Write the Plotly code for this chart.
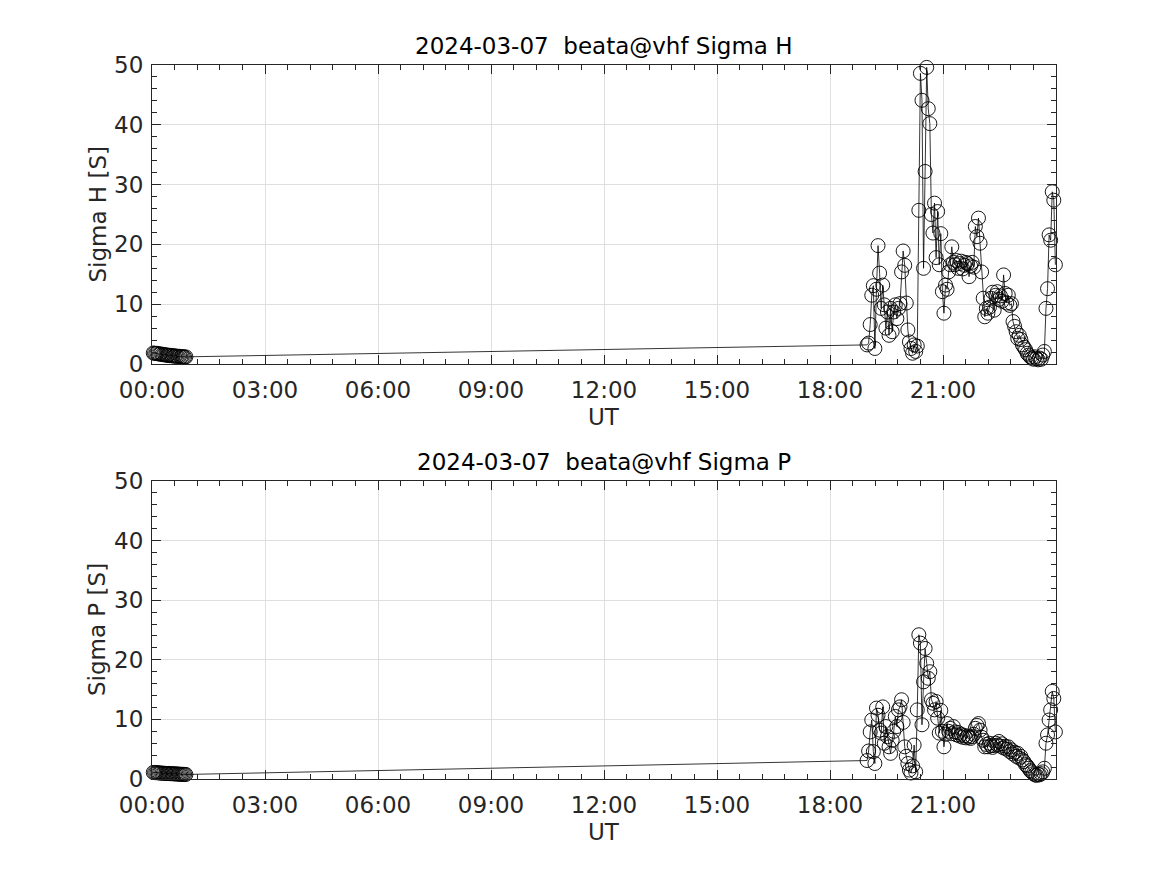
import pandas as pd
import plotly.graph_objects as go

DATE = "2024-03-07"
TITLE_H = "2024-03-07  beata@vhf Sigma H"
TITLE_P = "2024-03-07  beata@vhf Sigma P"
TICK_LABELS = ["00:00", "03:00", "06:00", "09:00", "12:00", "15:00", "18:00", "21:00"]

# sampling times (measurement cadence)
early_times = pd.date_range(f"{DATE} 00:02", periods=27, freq="2min")
late_times = pd.date_range(f"{DATE} 18:59", periods=121, freq="150s")

early_H = [1.85, 1.8, 1.75, 1.8, 1.7, 1.65, 1.7, 1.6, 1.55, 1.6, 1.5, 1.45, 1.5, 1.4,
           1.45, 1.35, 1.4, 1.3, 1.35, 1.3, 1.25, 1.3, 1.2, 1.25, 1.2, 1.15, 1.2]
early_P = [1.1, 1.08, 1.05, 1.07, 1.02, 1.0, 1.02, 0.98, 0.95, 0.97, 0.93, 0.92, 0.94, 0.9,
           0.88, 0.9, 0.86, 0.85, 0.87, 0.83, 0.82, 0.8, 0.81, 0.79, 0.78, 0.77, 0.76]

late_H = [3.2, 3.5, 6.6, 11.5, 13.1, 2.6, 12.5, 19.8, 15.2, 9.3,
          13.2, 9.9, 6.0, 8.7, 4.8, 9.3, 5.4, 8.7, 9.9, 7.6,
          9.3, 10.1, 15.4, 18.9, 16.5, 10.2, 5.7, 3.7, 2.6, 1.8,
          3.2, 2.1, 3.0, 25.7, 48.6, 44.1, 16.0, 32.2, 49.6, 42.7,
          40.2, 25.0, 21.9, 26.9, 17.8, 25.5, 16.6, 21.8, 12.1, 8.5,
          13.2, 12.5, 15.4, 16.6, 19.6, 17.0, 16.6, 17.3, 16.0, 16.8,
          17.2, 15.9, 16.5, 17.0, 16.8, 14.6, 16.4, 17.0, 16.2, 23.0,
          21.3, 24.4, 20.2, 15.4, 11.0, 7.9, 9.3, 8.5, 9.5, 11.0,
          12.0, 9.0, 11.5, 12.1, 10.8, 11.4, 10.5, 14.9, 11.8, 10.2,
          11.5, 9.8, 10.1, 7.1, 6.3, 5.4, 4.3, 4.8, 4.1, 3.2,
          2.8, 2.4, 1.8, 1.5, 1.2, 1.0, 0.8, 1.2, 0.9, 0.7,
          1.0, 0.8, 1.5, 2.1, 9.3, 12.6, 21.6, 20.7, 28.8, 27.4,
          16.6]
late_P = [3.1, 4.7, 7.9, 9.9, 4.6, 2.6, 11.9, 10.7, 8.2, 7.7,
          12.1, 6.0, 8.8, 7.1, 5.4, 4.3, 6.5, 8.0, 10.5, 8.8,
          11.6, 12.1, 13.3, 9.5, 5.4, 3.8, 2.6, 1.5, 1.0, 2.2,
          5.7, 1.2, 11.6, 24.2, 22.8, 9.1, 16.3, 21.9, 19.4, 16.9,
          18.0, 13.3, 12.7, 11.6, 13.0, 10.2, 7.7, 11.5, 8.0, 5.4,
          7.5, 9.3, 8.0, 8.5, 7.6, 8.8, 7.9, 7.4, 7.8, 7.2,
          7.5, 7.0, 7.3, 6.9, 7.2, 7.0, 6.8, 7.1, 7.5, 8.5,
          9.0, 9.3, 8.2, 7.0, 6.5, 5.4, 5.8, 5.4, 6.0, 5.6,
          5.3, 5.6, 6.0, 5.7, 6.3, 5.5, 5.9, 5.2, 5.5, 5.0,
          5.4, 4.6, 4.9, 4.2, 4.5, 3.8, 4.3, 3.5, 3.8, 3.2,
          2.9, 2.4, 2.2, 1.8, 1.4, 1.2, 0.9, 0.7, 0.6, 0.8,
          0.7, 0.9, 1.2, 1.8, 6.0, 7.4, 9.9, 11.6, 14.7, 13.5,
          7.9]

times = list(early_times) + list(late_times)
sigma_H = early_H + late_H
sigma_P = early_P + late_P
tick_vals = [f"{DATE} {t}" for t in TICK_LABELS]

FONT = "DejaVu Sans"
TXT = "#262626"
GRID = "#dfdfdf"
FS = 23

fig = go.Figure()
for vals, xa, ya in [(sigma_H, "x", "y"), (sigma_P, "x2", "y2")]:
    fig.add_trace(go.Scatter(
        x=times, y=vals, xaxis=xa, yaxis=ya, mode="lines+markers",
        line=dict(color="black", width=0.8),
        marker=dict(symbol="circle-open", size=14, color="black",
                    line=dict(color="black", width=0.9)),
        cliponaxis=False, showlegend=False))

xrange = [f"{DATE} 00:00", f"{DATE} 23:59:59"]

def xaxis_cfg(anchor):
    return dict(
        anchor=anchor, type="date", range=xrange,
        tickmode="array", tickvals=tick_vals, ticktext=TICK_LABELS,
        showgrid=True, gridcolor=GRID,
        gridwidth=1, zeroline=False, showline=True, linecolor=TXT, linewidth=1,
        mirror="ticks", ticks="inside", ticklen=9, tickcolor=TXT, tickwidth=1,
        ticklabelstandoff=5,
        minor=dict(tickmode="linear", dtick=36 * 60 * 1000, tick0=f"{DATE} 00:00",
                   ticks="inside", ticklen=5, tickcolor=TXT, showgrid=False),
        tickfont=dict(family=FONT, size=FS, color=TXT))

def yaxis_cfg(anchor, domain):
    return dict(
        anchor=anchor, domain=domain, range=[0, 50], dtick=10, tick0=0,
        showgrid=True, gridcolor=GRID, gridwidth=1, zeroline=False,
        showline=True, linecolor=TXT, linewidth=1, mirror="ticks",
        ticks="inside", ticklen=9, tickcolor=TXT, tickwidth=1,
        ticklabelstandoff=3,
        minor=dict(dtick=2, tick0=0, ticks="inside", ticklen=5,
                   tickcolor=TXT, showgrid=False),
        tickfont=dict(family=FONT, size=FS, color=TXT))

annotations = []
for xd, yd, title, ylab in [("x domain", "y domain", TITLE_H, "Sigma H [S]"),
                            ("x2 domain", "y2 domain", TITLE_P, "Sigma P [S]")]:
    annotations.append(dict(xref=xd, yref=yd, x=0.5, y=1.0635, text=title,
                            showarrow=False, xanchor="center", yanchor="middle",
                            font=dict(family=FONT, size=FS, color="#000000")))
    annotations.append(dict(xref=xd, yref=yd, x=0.5, y=-0.177, text="UT",
                            showarrow=False, xanchor="center", yanchor="middle",
                            font=dict(family=FONT, size=FS, color=TXT)))
    annotations.append(dict(xref=xd, yref=yd, x=-0.0608, y=0.5, text=ylab,
                            textangle=-90, showarrow=False, xanchor="center",
                            yanchor="middle",
                            font=dict(family=FONT, size=FS, color=TXT)))

fig.update_layout(
    width=1151, height=859, autosize=False,
    paper_bgcolor="white", plot_bgcolor="white",
    margin=dict(l=144, r=103, t=57, b=88),
    font=dict(family=FONT, size=FS, color=TXT),
    xaxis=xaxis_cfg("y"), yaxis=yaxis_cfg("x", [0.5812, 1.0]),
    xaxis2=xaxis_cfg("y2"), yaxis2=yaxis_cfg("x2", [0.0, 0.4174]),
    annotations=annotations, showlegend=False,
)

fig.write_html("out.html")
